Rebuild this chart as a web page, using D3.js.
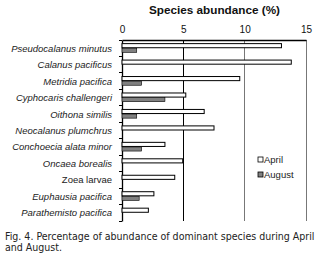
<!DOCTYPE html>
<html><head><meta charset="utf-8">
<script src="https://cdn.jsdelivr.net/npm/d3@7"></script>
<style>
body{margin:0;background:#fff;}
svg{display:block;}
</style></head>
<body>
<svg id="c" width="321" height="258"></svg>
<script>
const categories = ["Pseudocalanus minutus","Calanus pacificus","Metridia pacifica","Cyphocaris challengeri","Oithona similis","Neocalanus plumchrus","Conchoecia alata minor","Oncaea borealis","Zoea larvae","Euphausia pacifica","Parathemisto pacifica"];
const italicCats = [true,true,true,true,true,true,true,true,false,true,true];
const april = [13.0,13.8,9.6,5.2,6.7,7.5,3.5,4.95,4.3,2.6,2.15];
const august = [1.2,0,1.6,3.5,1.2,0,1.6,0,0,1.4,0];
const seriesNames = ["April","August"];
const xTicks = [0,5,10,15];
const captionLines = ["Fig. 4. Percentage of abundance of dominant species during April","and August."];

const svg = d3.select("#c");
const L = 122, R = 306, T = 40, B = 221;
const x = d3.scaleLinear().domain([0,15]).range([L,R]);
const y = d3.scaleBand().domain(categories).range([T,B]);
const inner = d3.scaleBand().domain(seriesNames).range([y.bandwidth()*0.22, y.bandwidth()*0.78]);
const sans = "'Liberation Sans',Arial,sans-serif";
const cond = "'DejaVu Sans Condensed','Liberation Sans Narrow',sans-serif";

// gridlines
svg.append("g").selectAll("line").data(xTicks.slice(1)).join("line")
  .attr("x1",d=>x(d)).attr("x2",d=>x(d)).attr("y1",T).attr("y2",B)
  .attr("stroke",d=>d===5?"#000":"#777").attr("stroke-width",1)
  .attr("shape-rendering","crispEdges");

// top axis
const ax = svg.append("g").attr("transform",`translate(0,${T})`)
  .call(d3.axisTop(x).tickValues(xTicks).tickSize(0).tickPadding(7));
ax.select(".domain").attr("stroke","#000").attr("stroke-width",1.3);
ax.selectAll("text").attr("font-family",sans).attr("font-size",10).attr("fill","#111");

// left axis
const ay = svg.append("g").attr("transform",`translate(${L},0)`)
  .call(d3.axisLeft(y).tickSize(0).tickFormat(""));
ay.select(".domain").attr("stroke","#000").attr("stroke-width",1.3);
const bounds = d3.range(categories.length+1).map(i=>T + i*y.step());
svg.append("g").selectAll("line").data(bounds).join("line")
  .attr("x1",L-3).attr("x2",L).attr("y1",d=>d).attr("y2",d=>d)
  .attr("stroke","#000").attr("shape-rendering","crispEdges");

// labels
svg.append("g").selectAll("text").data(categories).join("text")
  .attr("x",112).attr("y",d=>y(d)+y.bandwidth()/2+3.5)
  .attr("text-anchor","end").attr("font-family",sans)
  .attr("font-size",9.5).attr("font-style",(d,i)=>italicCats[i]?"italic":"normal")
  .attr("fill","#222").text(d=>d);

// bars
const bars = svg.append("g");
bars.selectAll("rect.a").data(categories).join("rect").attr("class","a")
  .attr("x",x(0)).attr("y",d=>y(d)+inner("April"))
  .attr("width",(d,i)=>x(april[i])-x(0)).attr("height",inner.bandwidth()-0.5)
  .attr("fill","#fff").attr("stroke","#000").attr("stroke-width",1);
bars.selectAll("rect.b").data(categories).join("rect").attr("class","b")
  .attr("x",x(0)).attr("y",d=>y(d)+inner("August"))
  .attr("width",(d,i)=>Math.max(0,x(august[i])-x(0))).attr("height",inner.bandwidth()-0.5)
  .attr("fill","#808080").attr("stroke",(d,i)=>august[i]>0?"#000":"none").attr("stroke-width",0.6);

// title
svg.append("text").attr("x",149).attr("y",14)
  .attr("font-family",sans).attr("font-weight","bold")
  .attr("font-size",11).attr("fill","#111")
  .attr("textLength",131).attr("lengthAdjust","spacingAndGlyphs")
  .text("Species abundance (%)");

// legend
const lg = svg.append("g");
seriesNames.forEach((s,i)=>{
  lg.append("rect").attr("x",258).attr("y",157+i*15).attr("width",5).attr("height",5)
    .attr("fill",i===0?"#fff":"#808080").attr("stroke","#000").attr("stroke-width",0.8);
  lg.append("text").attr("x",264).attr("y",163+i*15).attr("font-family",sans)
    .attr("font-size",9.5).attr("fill","#222").text(s);
});

// caption
const c1 = svg.append("text").attr("x",5).attr("y",240).attr("font-family",cond)
  .attr("font-size",11).attr("fill","#222").text(captionLines[0]);
const w = c1.node().getComputedTextLength();
const fs = Math.min(11.5, 11*310/w);
c1.attr("font-size",fs);
svg.append("text").attr("x",5).attr("y",251).attr("font-family",cond)
  .attr("font-size",fs).attr("fill","#222").text(captionLines[1]);
</script>
</body></html>
